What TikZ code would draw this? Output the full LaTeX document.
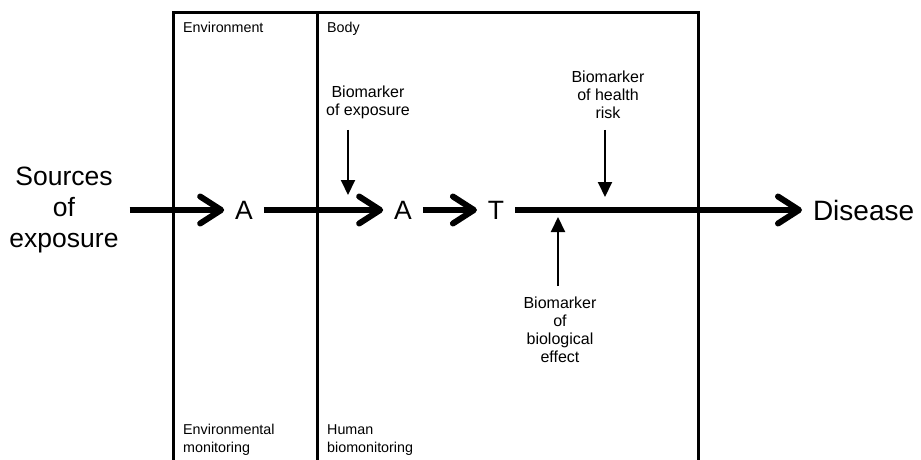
\documentclass[tikz,border=0pt]{standalone}
\usepackage{fontspec}
\setmainfont{Liberation Sans}
\usetikzlibrary{arrows.meta, positioning}

\begin{document}
\begin{tikzpicture}[
    x=1pt, y=-1pt,
    bigtext/.style={font=\fontsize{26.5}{31}\selectfont, inner sep=0pt, outer xsep=11pt, align=center},
    marker/.style={font=\fontsize{16}{18}\selectfont, inner sep=0pt, outer ysep=11pt, align=center},
    zonelabel/.style={font=\fontsize{14.3}{18}\selectfont, inner sep=0pt, align=left, anchor=north west},
    zoneline/.style={line width=3pt},
    flow/.style={line width=6pt, -{Straight Barb[length=21pt, width=27pt, round]}},
    markerarrow/.style={line width=2pt, -{Triangle[length=15pt, width=14pt]}}
]
\useasboundingbox (0,0) rectangle (921,460);

% zones
\draw[zoneline] (173,460) -- (173,12.5) -- (698,12.5) -- (698,460);
\draw[zoneline] (317,12.5) -- (317,460);

\node[zonelabel] (env) at (183,22) {Environment};
\node[zonelabel] (body) at (327,22) {Body};
\node[zonelabel] (envmon) at (183,424) {Environmental\\monitoring};
\node[zonelabel] (humbio) at (327,424) {Human\\biomonitoring};

% main chain
\node[bigtext] (sources) at (64,210) {Sources\\of\\exposure};
\node[bigtext] (agent1) at (244,210) {A};
\node[bigtext] (agent2) at (403,210) {A};
\node[bigtext] (target) at (496,210) {T};
\node[bigtext, anchor=west, font=\fontsize{28}{31}\selectfont] (disease) at (802,210) {Disease};

\draw[flow] (sources) -- (agent1);
\draw[flow] (agent1) -- (agent2);
\draw[flow] (agent2) -- (target);
\draw[flow] (target) -- (disease);

% biomarkers
\node[marker, anchor=north] (bm-exposure) at (368,75) {Biomarker\\of exposure};
\node[marker, anchor=north] (bm-risk) at (608,60) {Biomarker\\of health\\risk};
\node[marker, anchor=north] (bm-effect) at (560,286) {Biomarker\\of\\biological\\effect};

\coordinate (exposure-hit) at (348,195);
\coordinate (risk-hit) at (605,197);
\coordinate (effect-hit) at (558,217);

\draw[markerarrow] (bm-exposure.south -| exposure-hit) -- (exposure-hit);
\draw[markerarrow] (bm-risk.south -| risk-hit) -- (risk-hit);
\draw[markerarrow] (bm-effect.north -| effect-hit) -- (effect-hit);
\end{tikzpicture}
\end{document}
